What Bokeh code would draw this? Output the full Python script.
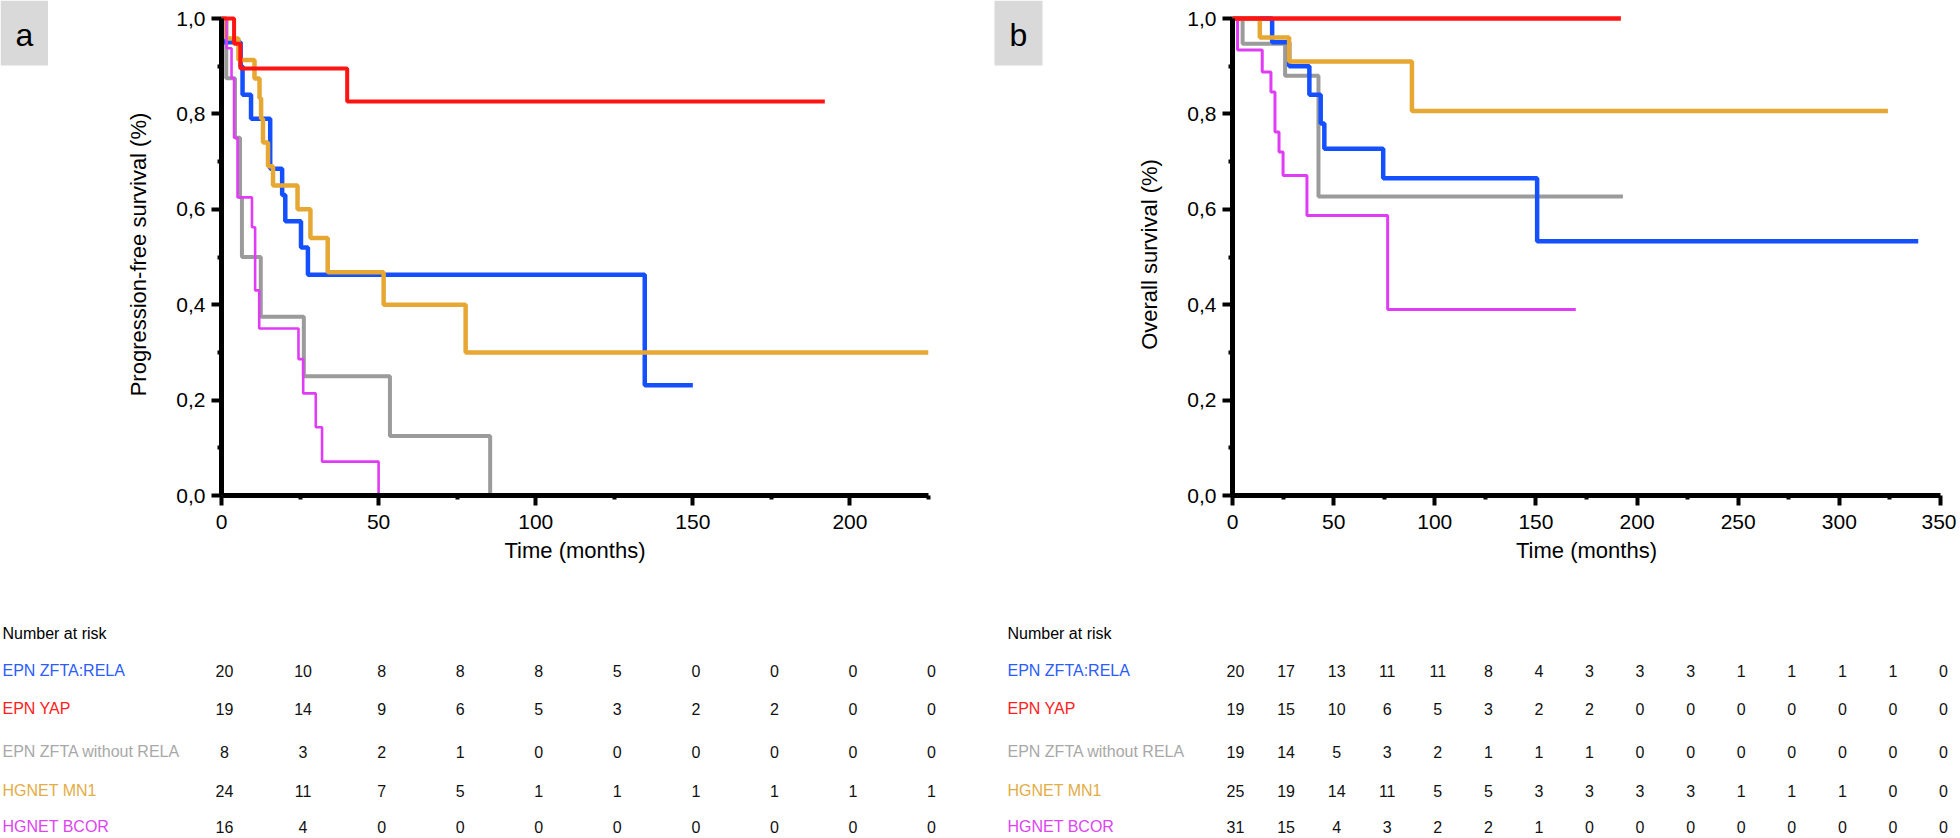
from bokeh.plotting import figure
from bokeh.layouts import row, column
from bokeh.models import Range1d, FixedTicker, CustomJSTickFormatter
from bokeh.core.properties import value
from bokeh.embed import file_html
from bokeh.resources import INLINE

FONT = "Liberation Sans"

groups = ["EPN ZFTA:RELA", "EPN YAP", "EPN ZFTA without RELA", "HGNET MN1", "HGNET BCOR"]
line_colors = ["#1450ff", "#ff1414", "#9b9b9b", "#e6a733", "#e03cf6"]
label_colors = ["#2a5cff", "#ff2020", "#a8a8a8", "#e2ad45", "#dd44f2"]

# ---- Panel a: progression-free survival (months, survival fraction) ----
pfs_rela_t = [0, 0.5, 6.1, 6.7, 9.4, 15.5, 19.3, 20.3, 25.3, 27.5, 134.7, 150]
pfs_rela_s = [1.0, 0.95, 0.90, 0.84, 0.79, 0.685, 0.63, 0.575, 0.52, 0.463, 0.231, 0.231]
pfs_yap_t = [0, 4, 6, 40, 192]
pfs_yap_s = [1.0, 0.947, 0.895, 0.826, 0.826]
pfs_zfta_t = [0, 1.5, 4.3, 5.9, 6.5, 12.5, 26.2, 53.6, 85.5]
pfs_zfta_s = [1.0, 0.875, 0.75, 0.625, 0.5, 0.375, 0.25, 0.125, 0.0]
pfs_mn1_t = [0, 1.5, 5.4, 10.5, 12.1, 12.6, 13.2, 14.8, 16.4, 24.2, 28.3, 33.8, 51.6, 77.7, 225]
pfs_mn1_s = [1.0, 0.958, 0.913, 0.874, 0.833, 0.79, 0.74, 0.69, 0.65, 0.60, 0.54, 0.468, 0.40, 0.30, 0.30]
pfs_bcor_t = [0, 1.6, 3.2, 4.0, 5.1, 9.7, 10.7, 12.0, 24.5, 26.0, 30.0, 32.0, 50.0]
pfs_bcor_s = [1.0, 0.9375, 0.875, 0.75, 0.625, 0.5625, 0.43, 0.35, 0.286, 0.214, 0.143, 0.071, 0.0]

# ---- Panel b: overall survival ----
os_rela_t = [0, 19.6, 28, 38, 43.6, 45.4, 74.5, 150.6, 339]
os_rela_s = [1.0, 0.95, 0.90, 0.84, 0.78, 0.727, 0.665, 0.533, 0.533]
os_yap_t = [0, 192]
os_yap_s = [1.0, 1.0]
os_zfta_t = [0, 5, 26, 42.5, 193]
os_zfta_s = [1.0, 0.947, 0.88, 0.627, 0.627]
os_mn1_t = [0, 13.5, 28, 88.7, 324]
os_mn1_s = [1.0, 0.96, 0.91, 0.806, 0.806]
os_bcor_t = [0, 2.5, 14.7, 19, 21, 23, 25, 36.8, 76.7, 169.7]
os_bcor_s = [1.0, 0.934, 0.888, 0.846, 0.762, 0.72, 0.671, 0.587, 0.39, 0.39]

# ---- Number at risk ----
risk_times_a = [0, 25, 50, 75, 100, 125, 150, 175, 200, 225]
risk_a_rela = [20, 10, 8, 8, 8, 5, 0, 0, 0, 0]
risk_a_yap = [19, 14, 9, 6, 5, 3, 2, 2, 0, 0]
risk_a_zfta = [8, 3, 2, 1, 0, 0, 0, 0, 0, 0]
risk_a_mn1 = [24, 11, 7, 5, 1, 1, 1, 1, 1, 1]
risk_a_bcor = [16, 4, 0, 0, 0, 0, 0, 0, 0, 0]

risk_times_b = [0, 25, 50, 75, 100, 125, 150, 175, 200, 225, 250, 275, 300, 325, 350]
risk_b_rela = [20, 17, 13, 11, 11, 8, 4, 3, 3, 3, 1, 1, 1, 1, 0]
risk_b_yap = [19, 15, 10, 6, 5, 3, 2, 2, 0, 0, 0, 0, 0, 0, 0]
risk_b_zfta = [19, 14, 5, 3, 2, 1, 1, 1, 0, 0, 0, 0, 0, 0, 0]
risk_b_mn1 = [25, 19, 14, 11, 5, 5, 3, 3, 3, 3, 1, 1, 1, 0, 0]
risk_b_bcor = [31, 15, 4, 3, 2, 2, 1, 0, 0, 0, 0, 0, 0, 0, 0]

y_major = [0.0, 0.2, 0.4, 0.6, 0.8, 1.0]
y_minor = [0.1, 0.3, 0.5, 0.7, 0.9]

# layout constants (pixels)
FIG_H = 600
TAB_H = 234
FRAME_TOP = 13
FRAME_BOT = 105
PX_PER_UNIT_Y = 477.0


def blank(p):
    p.axis.visible = False
    p.xgrid.visible = False
    p.ygrid.visible = False
    p.outline_line_color = None
    p.frame_align = False


def style_axes(p, xlabel, ylabel):
    for ax in (p.xaxis[0], p.yaxis[0]):
        ax.axis_line_width = 5
        ax.axis_line_color = "black"
        ax.major_tick_line_width = 4
        ax.minor_tick_line_width = 4
        ax.major_tick_in = 0
        ax.minor_tick_in = 0
        ax.major_tick_out = 10
        ax.minor_tick_out = 4
        ax.major_label_text_font = FONT
        ax.major_label_text_font_size = "21px"
        ax.major_label_text_color = "black"
        ax.axis_label_text_font = FONT
        ax.axis_label_text_font_size = "22px"
        ax.axis_label_text_font_style = "normal"
        ax.axis_label_text_color = "black"
    p.xaxis[0].axis_label = xlabel
    p.yaxis[0].axis_label = ylabel
    p.xaxis[0].major_label_standoff = 9
    p.xaxis[0].axis_label_standoff = 6
    p.yaxis[0].major_label_standoff = 6
    p.yaxis[0].axis_label_standoff = 22
    p.yaxis[0].ticker = FixedTicker(ticks=y_major, minor_ticks=y_minor)
    p.yaxis[0].formatter = CustomJSTickFormatter(code="return tick.toFixed(1).replace('.', ',');")
    p.yaxis[0].bounds = (0, 1)
    p.xgrid.visible = False
    p.ygrid.visible = False
    p.outline_line_color = None
    p.frame_align = False


def km_panel(width, left, right, xmax, xmajor, xminor, curves, ylabel, widths):
    p = figure(width=width, height=FIG_H,
               x_range=Range1d(0, xmax),
               y_range=Range1d(0, (FIG_H - FRAME_TOP - FRAME_BOT) / PX_PER_UNIT_Y),
               min_border_left=left, min_border_right=right,
               min_border_top=FRAME_TOP, min_border_bottom=FRAME_BOT,
               toolbar_location=None, output_backend="svg")
    style_axes(p, "Time (months)", ylabel)
    p.xaxis[0].ticker = FixedTicker(ticks=xmajor, minor_ticks=xminor)
    p.xaxis[0].bounds = (0, xmax)
    order = [2, 0, 3, 4, 1]
    for i in order:
        t, s = curves[i]
        p.step(x=t, y=s, mode="after", line_color=line_colors[i], line_width=widths[i])
    return p


def letter_box(width, box_left, letter):
    # panel letter in a grey box, drawn in a pixel-scaled strip
    b = figure(width=width, height=FIG_H, x_range=Range1d(0, width), y_range=Range1d(0, FIG_H),
               min_border=0, min_border_left=0, min_border_right=0, min_border_top=0,
               min_border_bottom=0, toolbar_location=None, output_backend="svg")
    blank(b)
    b.quad(left=[box_left], right=[box_left + 48], top=[FIG_H], bottom=[FIG_H - 65],
           fill_color="#d9d9d9", line_color=None)
    b.text(x=[box_left + 24], y=[FIG_H - 34], text=[letter], text_font=value(FONT),
           text_font_size="32px", text_color="black", text_align="center", text_baseline="middle")
    return b


def risk_table(width, left, px_per, times, risks, label_px):
    start = -left / px_per
    end = (width - left) / px_per
    t = figure(width=width, height=TAB_H, x_range=Range1d(start, end), y_range=Range1d(0, TAB_H),
               min_border=0, min_border_left=0, min_border_right=0, min_border_top=0, min_border_bottom=0,
               toolbar_location=None, output_backend="svg")
    blank(t)
    lx = start + label_px / px_per
    t.text(x=[lx], y=[TAB_H - 33], text=["Number at risk"], text_font=value(FONT),
           text_font_size="16px", text_color="black", text_align="left", text_baseline="middle")
    row_rel = [70, 108, 151, 190, 226]
    for i, (g, r) in enumerate(zip(groups, risks)):
        yy = TAB_H - row_rel[i]
        t.text(x=[lx], y=[yy], text=[g], text_font=value(FONT), text_font_size="16px",
               text_color=label_colors[i], text_align="left", text_baseline="middle")
        t.text(x=times, y=[yy] * len(times), text=[str(v) for v in r], text_font=value(FONT),
               text_font_size="16px", text_color="#111111", text_align="center",
               text_baseline="middle", x_offset=3)
    return t


# panel a geometry: frame from x=221 to x=928
WA_BOX, WA = 48, 960
LA = 221 - WA_BOX
RA = WA - 928
PXA = (928 - 221) / 225.0
# panel b geometry: column starts at 960, frame from 1232 to 1940
WB_BOX, WB = 83, 996
LB = 1232 - 960 - WB_BOX
RB = 960 + WB - 1940
PXB = (1940 - 1232) / 350.0

pa = km_panel(WA - WA_BOX, LA, RA, 225, [0, 50, 100, 150, 200], [25, 75, 125, 175, 225],
              [(pfs_rela_t, pfs_rela_s), (pfs_yap_t, pfs_yap_s), (pfs_zfta_t, pfs_zfta_s),
               (pfs_mn1_t, pfs_mn1_s), (pfs_bcor_t, pfs_bcor_s)],
              "Progression-free survival (%)", [4.5, 4, 4, 4.5, 2.6])
pb = km_panel(WB - WB_BOX, LB, RB, 350, [0, 50, 100, 150, 200, 250, 300, 350],
              [25, 75, 125, 175, 225, 275, 325],
              [(os_rela_t, os_rela_s), (os_yap_t, os_yap_s), (os_zfta_t, os_zfta_s),
               (os_mn1_t, os_mn1_s), (os_bcor_t, os_bcor_s)],
              "Overall survival (%)", [4.5, 4.5, 4, 4.5, 3])

ba = letter_box(WA_BOX, 0, "a")
bb = letter_box(WB_BOX, 34, "b")

ta = risk_table(WA, 221, PXA, risk_times_a,
                [risk_a_rela, risk_a_yap, risk_a_zfta, risk_a_mn1, risk_a_bcor], 2)
tb = risk_table(WB, 1232 - 960, PXB, risk_times_b,
                [risk_b_rela, risk_b_yap, risk_b_zfta, risk_b_mn1, risk_b_bcor], 47)

layout = row(column(row(ba, pa, spacing=0), ta, spacing=0),
             column(row(bb, pb, spacing=0), tb, spacing=0), spacing=0)
open("out.html", "w").write(file_html(layout, INLINE))
